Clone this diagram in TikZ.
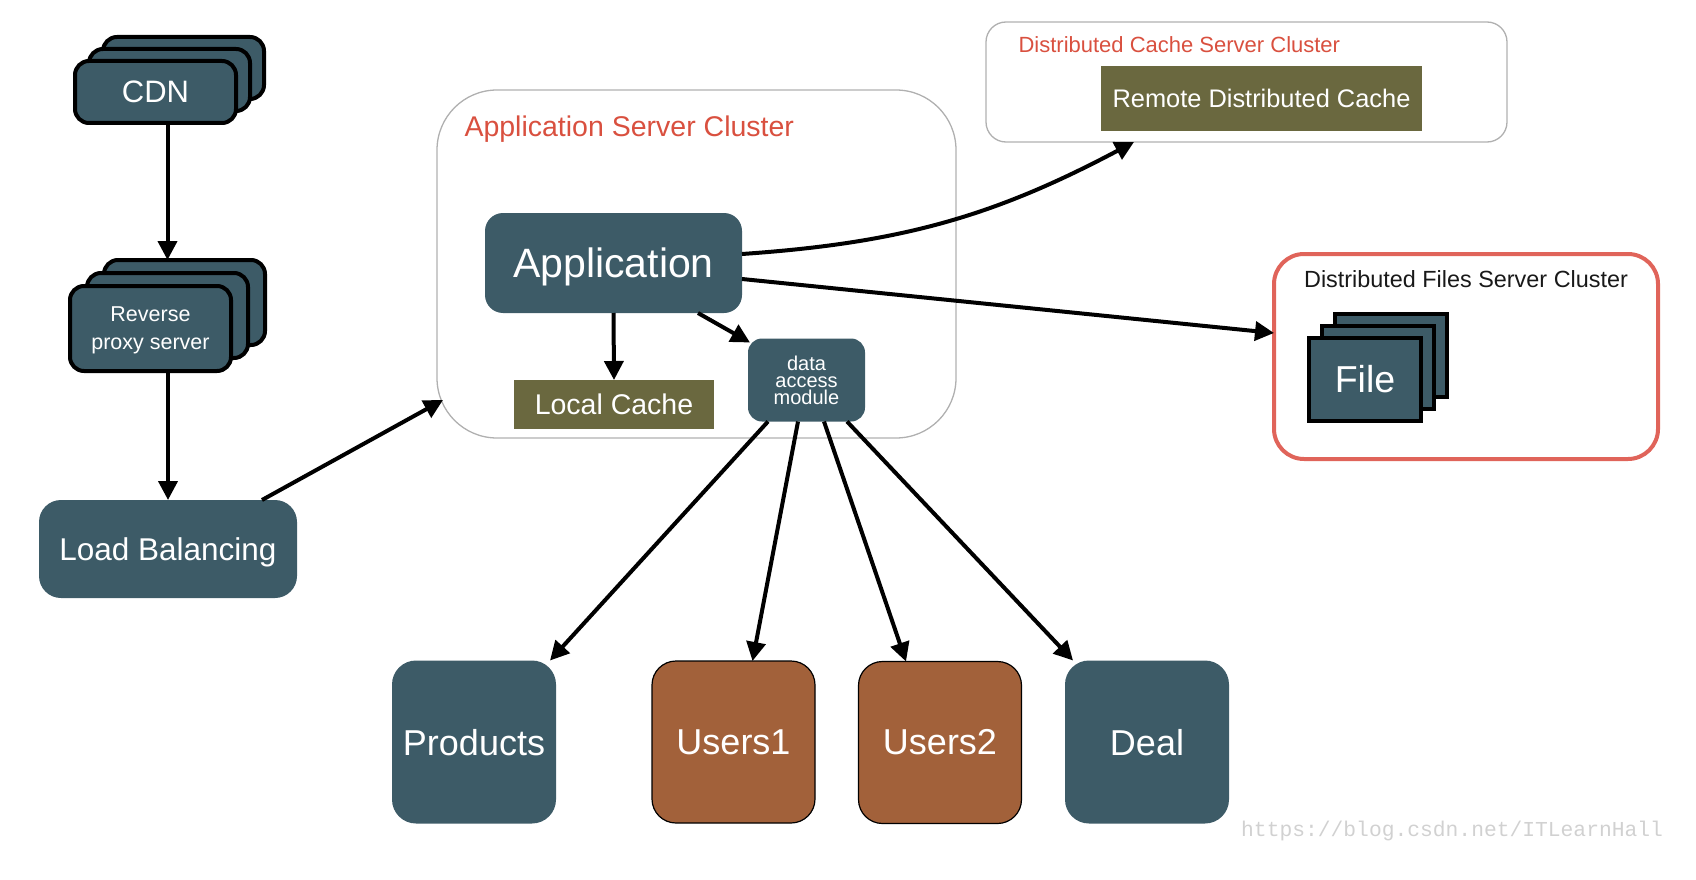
\documentclass[tikz,border=0pt]{standalone}
\usepackage{fontspec}
\setmainfont{Liberation Sans}
\newfontfamily\monof{Liberation Mono}
\usetikzlibrary{arrows.meta}
\definecolor{tealC}{HTML}{3D5B67}
\definecolor{oliveC}{HTML}{6A683F}
\definecolor{brownC}{HTML}{A2613A}
\definecolor{redT}{HTML}{D9503F}
\definecolor{redB}{HTML}{E0645A}
\definecolor{grayB}{HTML}{B0B0B0}
\tikzset{
  stackbox/.style={draw=black, line width=4pt, fill=tealC, rounded corners=14pt, inner sep=0pt, outer sep=0pt, text=white, text depth=0pt},
  filebox/.style={draw=black, line width=4pt, fill=tealC, inner sep=0pt, outer sep=0pt, text=white},
  tealbox/.style={fill=tealC, inner sep=0pt, outer sep=0pt, text=white, text depth=0pt},
  olivebox/.style={fill=oliveC, inner sep=0pt, outer sep=0pt, text=white, text depth=0pt},
  userbox/.style={draw=black, line width=1.2pt, fill=brownC, rounded corners=24pt, inner sep=0pt, outer sep=0pt, text=white, minimum width=163pt, minimum height=162pt},
  dbbox/.style={fill=tealC, rounded corners=24pt, inner sep=0pt, outer sep=0pt, text=white, text depth=0pt, minimum width=164pt, minimum height=163pt},
  clusterbox/.style={draw=grayB, line width=1.3pt, inner sep=0pt, outer sep=0pt},
  conn/.style={line width=4pt, -{Triangle[length=19pt,width=19pt]}},
  fs/.style={font=\fontsize{#1}{#1}\selectfont}
}
\begin{document}
\begin{tikzpicture}[x=1pt,y=-1pt]
\useasboundingbox (0,0) rectangle (1696,880);

% CDN stack
\node[stackbox, minimum width=161pt, minimum height=62pt] (cdn3) at (183.5,68) {};
\node[stackbox, minimum width=161pt, minimum height=62pt] (cdn2) at (169.5,80) {};
\node[stackbox, minimum width=161pt, minimum height=62pt, fs=31] (cdn) at (155.5,92) {CDN};

% Reverse proxy stack
\node[stackbox, minimum width=161pt, minimum height=85pt] (rp3) at (184.5,302.5) {};
\node[stackbox, minimum width=161pt, minimum height=85pt] (rp2) at (167.5,315.5) {};
\node[stackbox, minimum width=161pt, minimum height=85pt, align=center, font=\fontsize{21.5}{28}\selectfont] (rp) at (150.5,328.5) {Reverse\\proxy server};

% Load balancing
\node[tealbox, rounded corners=22pt, minimum width=258pt, minimum height=98pt, fs=31.5] (lb) at (168,549) {Load Balancing};

% Application server cluster
\node[clusterbox, rounded corners=60pt, minimum width=519pt, minimum height=348pt] (asc) at (696.5,264) {};
\node[anchor=west, text=redT, text depth=0pt, fs=28.5] (asct) at (461,126) {Application Server Cluster};
\node[tealbox, rounded corners=18pt, minimum width=257pt, minimum height=100pt, fs=41] (app) at (613.5,263) {Application};
\node[olivebox, minimum width=200pt, minimum height=49pt, fs=28.5] (lc) at (614,404.5) {Local Cache};
\node[tealbox, rounded corners=14pt, minimum width=117pt, minimum height=83pt, align=center, text depth=0pt, font=\fontsize{20}{17}\selectfont] (dam) at (806.5,380) {data\\access\\module};

% Distributed cache cluster
\node[clusterbox, rounded corners=20pt, minimum width=521pt, minimum height=120pt] (dcc) at (1246.5,82) {};
\node[anchor=west, text=redT, text depth=0pt, fs=22] (dcct) at (1015,45) {Distributed Cache Server Cluster};
\node[olivebox, minimum width=321pt, minimum height=65pt, fs=25.4] (rdc) at (1261.5,98.5) {Remote Distributed Cache};

% Distributed files cluster
\node[draw=redB, line width=4pt, rounded corners=30pt, minimum width=384pt, minimum height=205pt, inner sep=0pt, outer sep=0pt] (dfs) at (1466,356.5) {};
\node[text=black!90, fs=23.4] (dfst) at (1466,279) {Distributed Files Server Cluster};
\node[filebox, minimum width=112pt, minimum height=83pt] (file3) at (1391,355.5) {};
\node[filebox, minimum width=112pt, minimum height=83pt] (file2) at (1378,367.5) {};
\node[filebox, minimum width=112pt, minimum height=83pt, fs=37.5] (file) at (1365,379.5) {File};

% Databases
\node[dbbox, fs=36] (prod) at (474,742) {Products};
\node[userbox, fs=36] (u1) at (733.5,742) {Users1};
\node[userbox, fs=36] (u2) at (940,742.5) {Users2};
\node[dbbox, fs=36] (deal) at (1147,742) {Deal};

% Watermark
\node[anchor=west, inner sep=0pt, text=black!18, font=\monof\fontsize{21.3}{21.3}\selectfont] (wm) at (1241,831) {https://blog.csdn.net/ITLearnHall};

% Connectors
\draw[conn] (cdn.south -| rp2.center) -- (rp2.center |- rp3.north);
\draw[conn] (rp.south -| lb.north) -- (lb.north);
\draw[conn] ([xshift=-35pt]lb.north east) -- ([shift={(6,-38)}]asc.south west);
\draw[conn] (app.south) -- (lc.north);
\draw[conn] ([xshift=-44pt]app.south east) -- ([shift={(2,4)}]dam.north west);
\draw[conn] ([yshift=9pt]app.east) to[bend right=12] ([xshift=-112.5pt]dcc.south);
\draw[conn] ([yshift=-16pt]app.east) -- ([yshift=23.5pt]dfs.west);
\draw[conn] ([xshift=20pt]dam.south west) -- ([xshift=-6pt]prod.north east);
\draw[conn] ([xshift=50pt]dam.south west) -- ([xshift=19pt]u1.north);
\draw[conn] ([xshift=76pt]dam.south west) -- ([xshift=-34pt]u2.north);
\draw[conn] ([xshift=99pt]dam.south west) -- ([xshift=8pt]deal.north west);
\end{tikzpicture}
\end{document}
